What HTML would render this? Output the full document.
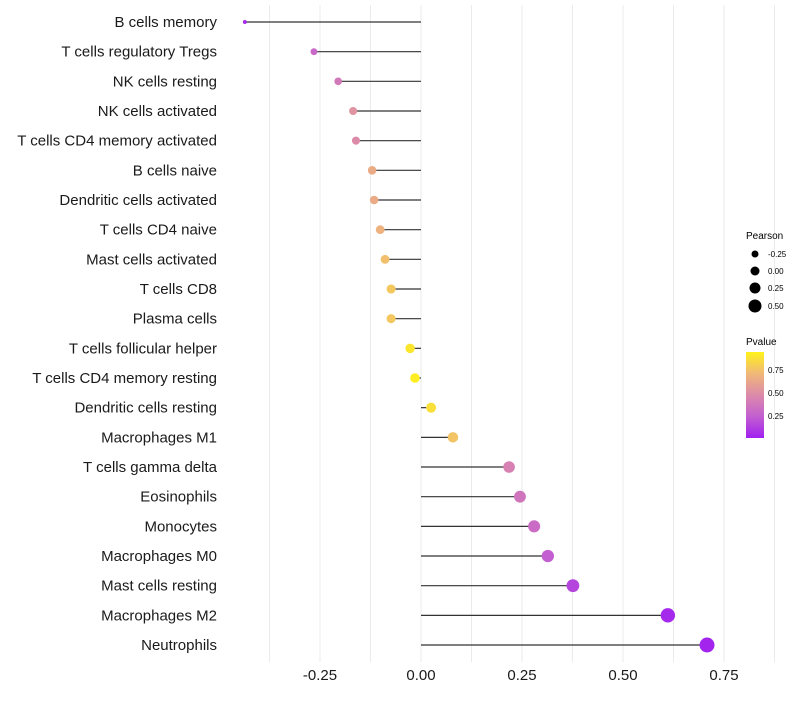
<!DOCTYPE html>
<html><head><meta charset="utf-8"><style>
body{margin:0;background:#fff;}
svg text{font-family:"Liberation Sans",sans-serif;}
</style></head><body>
<svg id="chart" width="800" height="700">
<defs><linearGradient id="pg" x1="0" y1="1" x2="0" y2="0">
<stop offset="0" stop-color="#a020f0"/><stop offset="0.25" stop-color="#c35fd0"/><stop offset="0.5" stop-color="#dc8aaa"/><stop offset="0.75" stop-color="#f0b878"/><stop offset="1" stop-color="#fff21a"/></linearGradient></defs>
<g id="grid"></g><g id="marks"></g><g id="axes"></g>
<g>
<text x="746" y="239" font-size="10">Pearson</text>
<circle cx="755" cy="254" r="3.5"/><text x="768" y="257" font-size="8">-0.25</text>
<circle cx="755" cy="271" r="4.5"/><text x="768" y="274" font-size="8">0.00</text>
<circle cx="755" cy="288" r="5.5"/><text x="768" y="291" font-size="8">0.25</text>
<circle cx="755" cy="306" r="6.5"/><text x="768" y="309" font-size="8">0.50</text>
</g>
<g>
<text x="746" y="345" font-size="10">Pvalue</text>
<rect x="746" y="352" width="18" height="86" fill="url(#pg)"/>
<text x="768" y="373" font-size="8">0.75</text>
<text x="768" y="396" font-size="8">0.50</text>
<text x="768" y="419" font-size="8">0.25</text>
</g>
</svg>
<script>
const categories=["B cells memory","T cells regulatory  Tregs","NK cells resting","NK cells activated","T cells CD4 memory activated","B cells naive","Dendritic cells activated","T cells CD4 naive","Mast cells activated","T cells CD8","Plasma cells","T cells follicular helper","T cells CD4 memory resting","Dendritic cells resting","Macrophages M1","T cells gamma delta","Eosinophils","Monocytes","Macrophages M0","Mast cells resting","Macrophages M2","Neutrophils"];
const pearson=[-0.436,-0.265,-0.205,-0.168,-0.161,-0.121,-0.116,-0.101,-0.089,-0.074,-0.074,-0.027,-0.015,0.025,0.079,0.218,0.245,0.28,0.314,0.376,0.611,0.708];
const pvalue=[0.05,0.3,0.4,0.55,0.5,0.68,0.68,0.72,0.78,0.82,0.82,0.95,0.98,0.92,0.8,0.45,0.38,0.32,0.25,0.15,0.04,0.02];
const xTicks=[-0.25,0,0.25,0.5,0.75];
const xTickLabels=["-0.25","0.00","0.25","0.50","0.75"];
const NS="http://www.w3.org/2000/svg";
const xs=v=>421+v*404;
const ys=i=>22+i*29.667;
const rs=v=>Math.sqrt(Math.max(3,23.8+45.5*v));
function mk(t,a,p){const e=document.createElementNS(NS,t);for(const k in a)e.setAttribute(k,a[k]);p.appendChild(e);return e;}
const stops=[[0,[160,32,240]],[0.25,[195,95,208]],[0.5,[220,138,170]],[0.75,[240,184,120]],[1,[255,242,26]]];
function col(p){for(let i=1;i<stops.length;i++){if(p<=stops[i][0]){const a=stops[i-1],b=stops[i],t=(p-a[0])/(b[0]-a[0]);return "rgb("+a[1].map((c,j)=>Math.round(c+(b[1][j]-c)*t)).join(",")+")";}}return "rgb(255,242,26)";}
const grid=document.getElementById('grid'),marks=document.getElementById('marks'),axes=document.getElementById('axes');
for(let g=-0.375;g<=0.876;g+=0.125){const l=mk('line',{x1:xs(g),x2:xs(g),y1:5,y2:662,stroke:'#ebebeb','stroke-width':1},grid);

}
categories.forEach((c,i)=>{
const y=ys(i);
const t=mk('text',{x:217,y:y+5,'font-size':15,'text-anchor':'end',fill:'#1a1a1a'},axes);t.textContent=c;


const l=mk('line',{x1:xs(0),x2:xs(pearson[i]),y1:y,y2:y,stroke:'#333','stroke-width':1.2},marks);


const d=mk('circle',{cx:xs(pearson[i]),cy:y,r:rs(pearson[i]),fill:col(pvalue[i])},marks);


});
xTicks.forEach((v,i)=>{const t=mk('text',{x:xs(v),y:680,'font-size':15,'text-anchor':'middle',fill:'#1a1a1a'},axes);t.textContent=xTickLabels[i];

});
</script>
</body></html>
